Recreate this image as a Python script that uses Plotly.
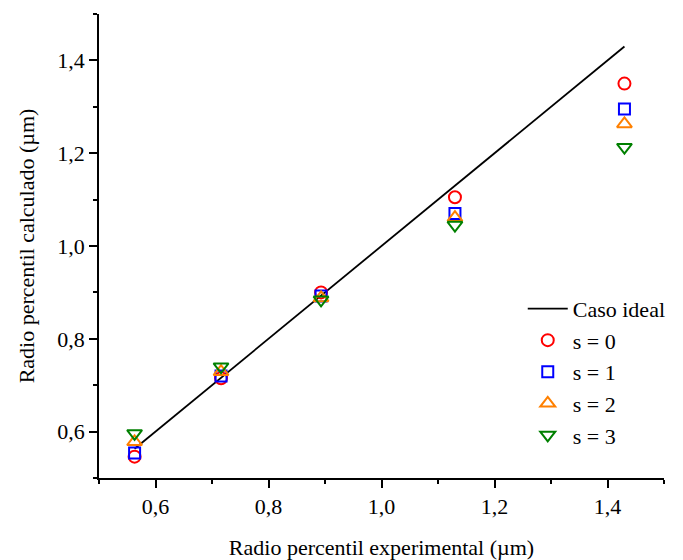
import plotly.graph_objects as go

x_exp = [0.563, 0.716, 0.893, 1.130, 1.430]
ideal_y = [0.563, 0.716, 0.893, 1.130, 1.430]
s0 = [0.546, 0.715, 0.900, 1.105, 1.350]
s1 = [0.554, 0.720, 0.892, 1.070, 1.295]
s2 = [0.578, 0.729, 0.888, 1.061, 1.263]
s3 = [0.596, 0.740, 0.884, 1.045, 1.213]

series = [
    ("s = 0", s0, "circle-open", "#ff0000", 12),
    ("s = 1", s1, "square-open", "#0000ff", 11),
    ("s = 2", s2, "triangle-up-open", "#ff8000", 13),
    ("s = 3", s3, "triangle-down-open", "#008000", 13),
]

font = "Liberation Serif"

fig = go.Figure()
fig.add_trace(go.Scatter(x=x_exp, y=ideal_y, mode="lines", name="Caso ideal",
                         line=dict(color="black", width=1.8)))
for name, ys, sym, col, sz in series:
    fig.add_trace(go.Scatter(x=x_exp, y=ys, mode="markers", name=name,
                             marker=dict(symbol=sym, size=sz, color=col,
                                         line=dict(color=col, width=2))))

axis_common = dict(
    showgrid=False, zeroline=False, showline=True, linecolor="black", linewidth=1.5,
    ticks="outside", ticklen=8, tickwidth=1.5, tickcolor="black",
    tickfont=dict(family=font, size=22, color="black"),
    minor=dict(ticks="outside", ticklen=4, tickwidth=1.5, tickcolor="black", dtick=0.1),
    range=[0.5, 1.5], dtick=0.2, tick0=0.6, tickformat=".1f",
    automargin=False,
)

fig.update_xaxes(**axis_common,
                 title=dict(text="Radio percentil experimental (µm)",
                            font=dict(family=font, size=22, color="black"), standoff=24))
fig.update_yaxes(**axis_common,
                 title=dict(text="Radio percentil calculado (µm)",
                            font=dict(family=font, size=22, color="black"), standoff=17))

fig.update_layout(
    width=683, height=560,
    margin=dict(l=99, r=13, t=14, b=82),
    plot_bgcolor="white", paper_bgcolor="white",
    separators=",.",
    legend=dict(x=0.75, y=0.41, xanchor="left", yanchor="top",
                font=dict(family=font, size=22, color="black"),
                bgcolor="rgba(0,0,0,0)", tracegroupgap=0, itemwidth=40),
    showlegend=True,
)

fig.write_html("out.html")
